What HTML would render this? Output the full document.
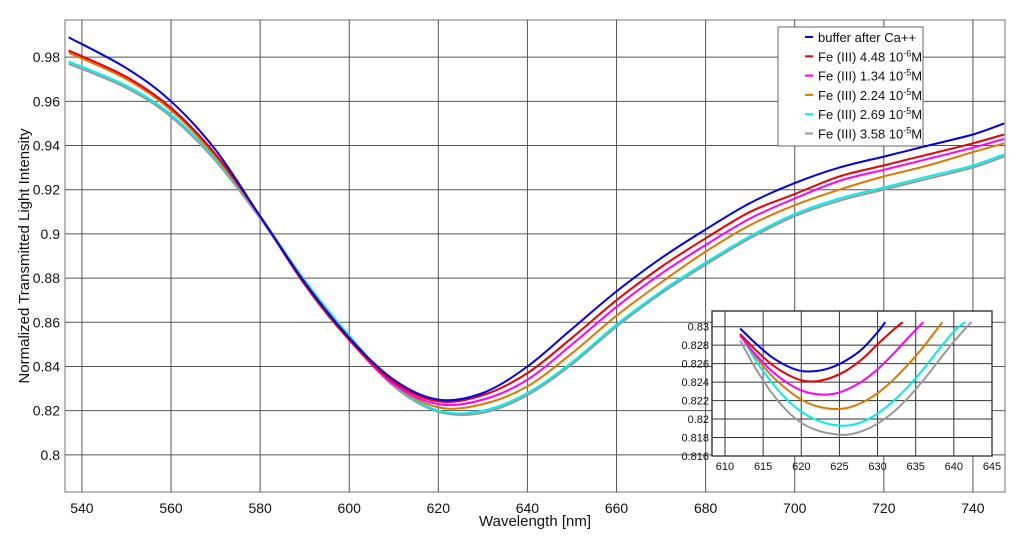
<!DOCTYPE html>
<html><head><meta charset="utf-8"><style>
body{margin:0;background:#fff;}
svg text{font-family:"Liberation Sans",Arial,sans-serif;fill:#111;}
</style></head><body>
<svg id="chart" width="1024" height="550" xmlns="http://www.w3.org/2000/svg">
<g id="main"></g>
<g id="inset"></g>
<g id="legend"></g>
</svg>
<script>
const seriesNames=["buffer after Ca++","Fe (III) 4.48 10","Fe (III) 1.34 10","Fe (III) 2.24 10","Fe (III) 2.69 10","Fe (III) 3.58 10"];
const seriesExp=["","-6","-5","-5","-5","-5"];
const colors=["#0000ee","#ee0000","#ff00ff","#e07800","#00eeee","#999999"];
const wl=[537,550,560,570,580,590,600,610,620,630,640,650,660,670,680,690,700,710,720,730,740,747];
const sBlue=[.989,.975,.960,.938,.908,.878,.853,.834,.825,.828,.840,.857,.874,.889,.902,.914,.923,.930,.935,.940,.945,.950];
const sRed=[.983,.971,.957,.936,.908,.877,.852,.833,.8242,.827,.837,.853,.870,.885,.898,.910,.918,.926,.931,.936,.941,.945];
const sMag=[.983,.971,.957,.936,.908,.878,.852,.832,.823,.825,.834,.850,.867,.882,.895,.907,.916,.924,.929,.934,.939,.943];
const sOra=[.982,.970,.956,.935,.908,.878,.853,.832,.8215,.823,.831,.846,.863,.878,.892,.904,.913,.920,.926,.931,.937,.941];
const sCya=[.978,.967,.954,.934,.908,.879,.854,.832,.820,.820,.828,.842,.859,.874,.887,.899,.909,.916,.921,.926,.931,.936];
const sGry=[.977,.966,.953,.933,.907,.878,.853,.831,.8195,.819,.827,.841,.858,.873,.886,.898,.908,.915,.920,.925,.930,.935];
const mainSeries=[sBlue,sRed,sMag,sOra,sCya,sGry];
const xTicks=[540,560,580,600,620,640,660,680,700,720,740];
const yTicks=[0.8,0.82,0.84,0.86,0.88,0.9,0.92,0.94,0.96,0.98];
const iwBlue=[612,614,616,618,620,622,624,626,628,630,631];
const ivBlue=[.8298,.8282,.8268,.8258,.8252,.8252,.8256,.8264,.8276,.8294,.8305];
const iwRed=[612,614,616,618,620,622,624,626,628,630,632,633.3];
const ivRed=[.8292,.8275,.826,.8249,.8242,.8241,.8245,.8253,.8265,.8281,.8296,.8305];
const iwMag=[612,614,616,618,620,622,624,626,628,630,632,634,636];
const ivMag=[.829,.827,.8253,.824,.8231,.8227,.8227,.8232,.8241,.8254,.827,.8288,.8305];
const iwOra=[612,614,616,618,620,622,624,626,628,630,632,634,636,638.5];
const ivOra=[.8292,.8268,.8248,.8233,.8221,.8214,.8211,.8212,.8218,.8228,.8242,.8259,.8278,.8305];
const iwCya=[612,614,616,618,620,622,624,626,628,630,632,634,636,638,640,641.5];
const ivCya=[.8292,.8264,.8241,.8222,.8208,.8199,.8194,.8193,.8197,.8206,.8219,.8235,.8254,.8275,.8295,.8305];
const iwGry=[612,614,616,618,620,622,624,626,628,630,632,634,636,638,640,642.3];
const ivGry=[.8285,.8255,.823,.821,.8196,.8188,.8184,.8183,.8187,.8195,.8207,.8223,.8242,.8263,.8284,.8305];
const insetW=[iwBlue,iwRed,iwMag,iwOra,iwCya,iwGry];
const insetV=[ivBlue,ivRed,ivMag,ivOra,ivCya,ivGry];
const ixTicks=[610,615,620,625,630,635,640,645];
const iyTicks=[0.816,0.818,0.82,0.822,0.824,0.826,0.828,0.83];

const NS="http://www.w3.org/2000/svg";
function mk(p,tag,at){const e=document.createElementNS(NS,tag);for(const k in at)e.setAttribute(k,at[k]);p.appendChild(e);return e;}
function smooth(pts){let d="M"+pts[0][0].toFixed(1)+","+pts[0][1].toFixed(1);
 for(let i=0;i<pts.length-1;i++){const p0=pts[Math.max(0,i-1)],p1=pts[i],p2=pts[i+1],p3=pts[Math.min(pts.length-1,i+2)];
  const c1=[p1[0]+(p2[0]-p0[0])/6,p1[1]+(p2[1]-p0[1])/6],c2=[p2[0]-(p3[0]-p1[0])/6,p2[1]-(p3[1]-p1[1])/6];
  d+="C"+c1[0].toFixed(1)+","+c1[1].toFixed(1)+" "+c2[0].toFixed(1)+","+c2[1].toFixed(1)+" "+p2[0].toFixed(1)+","+p2[1].toFixed(1);}
 return d;}

const L=65,R=1005,T=20,B=492,x0=536.2,x1=747.2,y0=0.7832,y1=0.9968;
const X=v=>L+(v-x0)/(x1-x0)*(R-L), Y=v=>B-(v-y0)/(y1-y0)*(B-T);
const g=document.getElementById('main');
mk(g,'rect',{x:L,y:T,width:R-L,height:B-T,fill:'#fff',stroke:'#777','stroke-width':1});
xTicks.forEach(t=>{const l=mk(g,'line',{x1:X(t),x2:X(t),y1:T,y2:B,stroke:'#555','stroke-width':1});
 
 const tx=mk(g,'text',{x:X(t),y:B+21,'font-size':14,'text-anchor':'middle'});tx.textContent=t;
 });
yTicks.forEach(t=>{const l=mk(g,'line',{x1:L,x2:R,y1:Y(t),y2:Y(t),stroke:'#555','stroke-width':1});
 
 const tx=mk(g,'text',{x:L-5,y:Y(t)+5,'font-size':14,'text-anchor':'end'});tx.textContent=(t===0.9?'0.9':t===0.8?'0.8':t.toFixed(2));
 });
let t1=mk(g,'text',{x:(L+R)/2,y:526,'font-size':15,'text-anchor':'middle'});t1.textContent="Wavelength [nm]";

let t2=mk(g,'text',{x:0,y:0,'font-size':15,'text-anchor':'middle',transform:'translate(29,256) rotate(-90)'});t2.textContent="Normalized Transmitted Light Intensity";

[5,4,3,2,1,0].forEach(i=>{const p=mk(g,'path',{d:smooth(wl.map((w,j)=>[X(w),Y(mainSeries[i][j])])),fill:'none',stroke:colors[i],'stroke-width':2});
 });

const iL=712,iR=992,iT=311,iB=456,ix0=608.3,ix1=645,iy0=0.816,iy1=0.8317;
const IX=v=>iL+(v-ix0)/(ix1-ix0)*(iR-iL), IY=v=>iB-(v-iy0)/(iy1-iy0)*(iB-iT);
const h=document.getElementById('inset');
mk(h,'rect',{x:iL,y:iT,width:iR-iL,height:iB-iT,fill:'#fff',stroke:'#222','stroke-width':1.3});
ixTicks.forEach(t=>{const l=mk(h,'line',{x1:IX(t),x2:IX(t),y1:iT,y2:iB,stroke:'#333','stroke-width':1});
 
 const tx=mk(h,'text',{x:IX(t),y:iB+14,'font-size':11,'text-anchor':'middle'});tx.textContent=t;
 });
iyTicks.forEach(t=>{const l=mk(h,'line',{x1:iL,x2:iR,y1:IY(t),y2:IY(t),stroke:'#333','stroke-width':1});
 
 const tx=mk(h,'text',{x:iL-3,y:IY(t)+4,'font-size':11,'text-anchor':'end'});tx.textContent=String(t);
 });
[5,4,3,2,1,0].forEach(i=>{const p=mk(h,'path',{d:smooth(insetW[i].map((w,j)=>[IX(w),IY(insetV[i][j])])),fill:'none',stroke:colors[i],'stroke-width':2});
 });

const lg=document.getElementById('legend');
mk(lg,'rect',{x:778,y:27,width:145,height:119,fill:'#fff',stroke:'#666','stroke-width':1});
seriesNames.forEach((n,i)=>{const y=37+i*19.3;
 const l=mk(lg,'line',{x1:805,x2:813,y1:y,y2:y,stroke:colors[i],'stroke-width':2});
 
 const tx=mk(lg,'text',{x:818,y:y+5,'font-size':13});tx.textContent=n;
 if(seriesExp[i]){const s=mk(tx,'tspan',{dy:-5,'font-size':9});s.textContent=seriesExp[i];const m=mk(tx,'tspan',{dy:5});m.textContent="M";}
 });
</script>
</body></html>
